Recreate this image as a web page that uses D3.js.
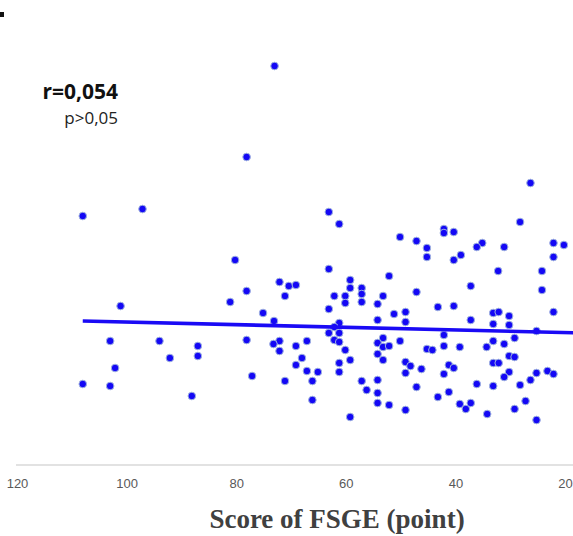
<!DOCTYPE html>
<html>
<head>
<meta charset="utf-8">
<script src="https://cdn.jsdelivr.net/npm/d3@7"></script>
<style>
  html, body { margin: 0; padding: 0; background: #fff; }
  svg { display: block; }
</style>
</head>
<body>
<svg id="chart" width="573" height="536"></svg>
<script>
// FSGE score (x) for each subject
const fsge = [
  108.0, 97.1, 101.1, 80.2, 72.1, 70.4, 78.1, 71.1, 81.1, 75.1,
  73.1, 103.0, 94.0, 87.0, 92.1, 87.0, 78.1, 72.1, 73.2, 72.1,
  102.1, 108.0, 103.0, 77.1, 71.1, 88.1, 73.0, 78.1, 26.3, 63.1,
  61.2, 28.2, 50.1, 47.1, 42.1, 42.1, 40.3, 45.2, 45.2, 35.1,
  36.1, 31.1, 22.1, 20.2, 22.1, 39.0, 40.3, 32.2, 24.2, 63.1,
  52.1, 59.2, 59.2, 57.1, 57.1, 57.1, 60.1, 60.1, 62.1, 63.1,
  47.1, 53.2, 54.2, 54.2, 51.2, 49.1, 49.1, 43.2, 40.3, 37.2,
  37.2, 24.2, 22.1, 33.1, 32.1, 30.2, 30.2, 33.1, 25.2, 69.1,
  61.2, 62.1, 61.2, 63.1, 62.1, 61.2, 69.1, 67.1, 68.0, 69.1,
  67.1, 65.1, 66.1, 66.1, 60.1, 59.2, 61.2, 61.2, 57.1, 56.2,
  59.2, 53.2, 54.2, 53.2, 52.1, 54.2, 53.2, 50.1, 54.2, 54.2,
  54.2, 52.1, 49.1, 48.2, 49.1, 46.2, 47.1, 49.1, 45.2, 44.2,
  42.1, 42.1, 39.2, 41.2, 40.3, 42.1, 43.2, 41.2, 39.2, 38.1,
  37.2, 36.1, 34.3, 33.1, 31.1, 29.2, 33.1, 32.1, 30.2, 29.2,
  30.2, 31.1, 33.1, 34.2, 28.2, 26.3, 25.2, 23.2, 22.1, 27.2,
  29.2, 25.2
];

// Outcome value (y) for each subject, same order
const outcome = [
  24.7, 25.4, 15.7, 20.3, 18.1, 17.7, 17.2, 16.7, 16.1, 15.0,
  14.2, 12.2, 12.2, 11.7, 10.5, 10.7, 12.3, 12.2, 11.9, 11.2,
  9.5, 7.9, 7.7, 8.7, 8.2, 6.7, 39.7, 30.6, 28.0, 25.1,
  23.9, 24.1, 22.6, 22.2, 23.4, 23.0, 23.1, 21.5, 20.6, 22.0,
  21.6, 21.6, 22.0, 21.8, 20.6, 20.8, 20.3, 19.2, 19.2, 19.4,
  18.7, 18.3, 17.5, 17.5, 16.9, 16.1, 16.7, 16.0, 16.7, 15.4,
  17.1, 16.7, 15.9, 14.3, 14.9, 15.1, 14.1, 15.6, 15.7, 17.7,
  14.3, 17.3, 15.1, 15.0, 15.1, 14.7, 13.8, 13.9, 13.2, 17.8,
  14.0, 13.6, 13.0, 13.0, 12.3, 12.1, 11.7, 12.2, 10.5, 9.8,
  9.2, 9.1, 8.2, 6.3, 11.3, 10.3, 10.0, 9.1, 8.2, 7.3,
  4.6, 12.5, 12.0, 11.6, 11.7, 10.9, 10.3, 12.2, 8.3, 7.0,
  6.0, 5.8, 10.1, 9.7, 9.0, 9.4, 7.6, 5.3, 11.4, 11.3,
  12.8, 11.7, 11.6, 9.8, 9.5, 8.9, 6.6, 7.1, 5.9, 5.4,
  6.0, 7.9, 11.6, 12.2, 11.9, 12.5, 10.0, 10.0, 10.7, 10.6,
  9.1, 8.6, 7.7, 4.9, 7.8, 8.3, 9.0, 9.2, 8.9, 6.2,
  5.4, 4.3
];

// Fitted regression line end points
const trendX = [108.0, 15.0];
const trendY = [14.2, 12.98];

const xTicks = [120, 100, 80, 60, 40, 20];
const xTitle = "Score of FSGE (point)";
const statR = "r=0,054";
const statP = "p>0,05";

const W = 573, H = 536;
const axisY = 465;
const svg = d3.select("#chart");

const x = d3.scaleLinear().domain([120, 20]).range([17, 565]);
const y = d3.scaleLinear().domain([0, 40]).range([463, 63]);

// small fragment of the panel letter in the top-left corner
svg.append("rect").attr("x", 0).attr("y", 12).attr("width", 4).attr("height", 5).attr("fill", "#111");

// baseline
svg.append("line")
  .attr("x1", x(120) - 1).attr("x2", W)
  .attr("y1", axisY).attr("y2", axisY)
  .attr("stroke", "#d9d9d9").attr("stroke-width", 1.3);

// x axis tick labels
const axis = d3.axisBottom(x).tickValues(xTicks).tickSize(0).tickPadding(14);
const gAxis = svg.append("g").attr("transform", `translate(0,${axisY})`).call(axis);
gAxis.select(".domain").remove();
gAxis.selectAll("text")
  .attr("fill", "#595959")
  .style("font-family", "'Liberation Sans', Arial, sans-serif")
  .style("font-size", "13px");

// points
svg.append("g").selectAll("circle")
  .data(fsge.map((v, i) => [v, outcome[i]]))
  .join("circle")
  .attr("cx", d => x(d[0]))
  .attr("cy", d => y(d[1]))
  .attr("r", 3.8)
  .attr("fill", "#1408f5")
  .attr("stroke", "#9fb2e0")
  .attr("stroke-width", 1);

// regression line
svg.append("line")
  .attr("x1", x(trendX[0])).attr("y1", y(trendY[0]))
  .attr("x2", x(trendX[1])).attr("y2", y(trendY[1]))
  .attr("stroke", "#1a0af5").attr("stroke-width", 3.6);

// statistics
svg.append("text")
  .attr("x", 118).attr("y", 99)
  .attr("text-anchor", "end")
  .style("font-family", "'Open Sans', 'Liberation Sans', sans-serif")
  .style("font-weight", "bold").style("font-size", "21px")
  .attr("fill", "#111")
  .text(statR);
svg.append("text")
  .attr("x", 118).attr("y", 124)
  .attr("text-anchor", "end")
  .style("font-family", "'Open Sans', 'Liberation Sans', sans-serif")
  .style("font-size", "17px")
  .attr("fill", "#222")
  .text(statP);

// axis title
svg.append("text")
  .attr("x", 337).attr("y", 528)
  .attr("text-anchor", "middle")
  .style("font-family", "'Liberation Serif', 'Times New Roman', serif")
  .style("font-weight", "bold").style("font-size", "27px")
  .attr("fill", "#404040")
  .text(xTitle);
</script>
</body>
</html>
